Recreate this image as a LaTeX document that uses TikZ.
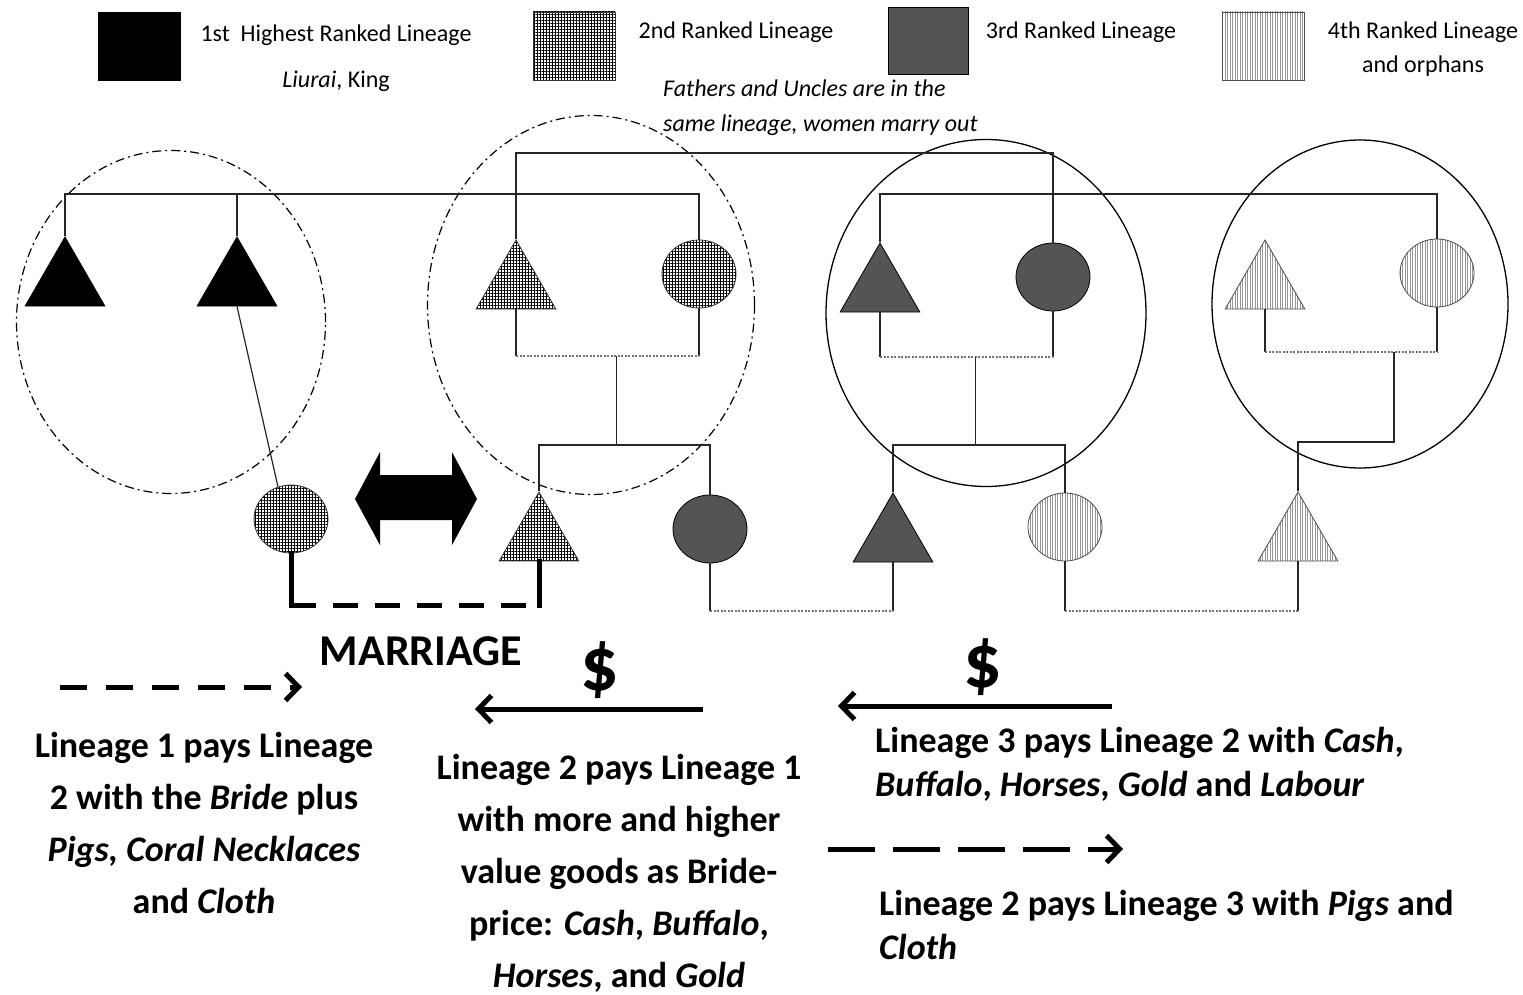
\documentclass[tikz,border=0pt]{standalone}
\usepackage{fontspec}
\setmainfont{Carlito}
\usetikzlibrary{shapes.geometric,patterns.meta,arrows.meta}

\tikzset{
  rank1/.style={fill=black,draw=black},
  rank2/.style={draw=black!80,pattern={Hatch[angle=0,distance=3pt,line width=0.9pt]},pattern color=black},
  rank3/.style={fill=black!67,draw=black},
  rank4/.style={draw=black!70,pattern={Lines[angle=90,distance=2.5pt,line width=0.9pt]},pattern color=black!42},
  keybox/.style={minimum width=82pt,minimum height=68pt,inner sep=0pt},
  male/.style={regular polygon,regular polygon sides=3,minimum size=92pt,inner sep=0pt,line width=0.8pt},
  female/.style={ellipse,minimum width=74pt,minimum height=68pt,inner sep=0pt,line width=0.8pt},
  ringdash/.style={ellipse,draw,inner sep=0pt,line width=1.2pt,dash pattern=on 9pt off 4pt on 2pt off 4pt},
  ringsolid/.style={ellipse,draw,inner sep=0pt,line width=1.3pt},
  kin/.style={line width=1.2pt,draw=black!85},
  wed/.style={line width=1.3pt,draw=black!55,dash pattern=on 2pt off 1.5pt},
  bond/.style={line width=5pt,draw=black},
  gift/.style={line width=5pt,-{Straight Barb[length=13pt,width=27pt,line width=5pt]}},
  keytxt/.style={inner sep=0pt,font=\fontsize{24}{34}\selectfont},
  paytxt/.style={inner sep=0pt,font=\bfseries\fontsize{36}{52}\selectfont},
  dollar/.style={inner sep=0pt,font=\bfseries\fontsize{76}{80}\selectfont}
}

\begin{document}
\begin{tikzpicture}[x=1pt,y=-1pt]
\useasboundingbox (0,0) rectangle (1523,995);

% legend
\node[rank1,keybox] (key1) at (139,46) {};
\node[keytxt] (key1t) at (336,35) {1st\ \ Highest Ranked Lineage};
\node[keytxt] (key1s) at (336,81) {\textit{Liurai}, King};
\node[rank2,keybox] (key2) at (574,46) {};
\node[keytxt] (key2t) at (736,32) {2nd Ranked Lineage};
\node[rank3,keybox,minimum width=80pt,minimum height=67pt] (key3) at (928,41) {};
\node[keytxt] (key3t) at (1081,32) {3rd Ranked Lineage};
\node[rank4,keybox] (key4) at (1263,46) {};
\node[keytxt,align=center] (key4t) at (1423,49) {4th Ranked Lineage\\and orphans};
\node[keytxt,align=left,anchor=west,font=\itshape\fontsize{24}{35}\selectfont] (note) at (663,108)
  {Fathers and Uncles are in the\\same lineage, women marry out};

% lineage rings
\node[ringdash,minimum width=309pt,minimum height=343pt] (ring1) at (171,322) {};
\node[ringdash,minimum width=327pt,minimum height=379pt] (ring2) at (591,305) {};
\node[ringsolid,minimum width=320pt,minimum height=347pt] (ring3) at (986,313) {};
\node[ringsolid,minimum width=296pt,minimum height=328pt] (ring4) at (1360,304) {};

% parents
\node[male,rank1] (t1) at (65,283) {};
\node[male,rank1] (t2) at (237,283) {};
\node[male,rank2] (t3) at (516,286) {};
\node[female,rank2] (c3) at (699,274) {};
\node[male,rank3] (t4) at (880,289) {};
\node[female,rank3] (c4) at (1053,277) {};
\node[male,rank4] (t5) at (1265,286) {};
\node[female,rank4] (c5) at (1437,273) {};

% children
\node[female,rank2] (bride) at (291,519) {};
\node[male,rank2] (groom) at (539,538) {};
\node[female,rank3] (c6) at (710,529) {};
\node[male,rank3] (t7) at (893,539) {};
\node[female,rank4] (c7) at (1065,527) {};
\node[male,rank4] (t8) at (1298,538) {};

\coordinate (barA) at (0,194);
\coordinate (barB) at (0,153);
\coordinate (barC) at (0,194);
\coordinate (cpl2) at (0,356);
\coordinate (cpl3) at (0,357);
\coordinate (cpl4) at (0,352);
\coordinate (sib2) at (0,445);
\coordinate (sib3) at (0,445);
\coordinate (sib4) at (0,442);
\coordinate (wedrow) at (0,605);
\coordinate (lowrow) at (0,611);

% sibling bars
\draw[kin] (t1.north) -- (t1.north |- barA) -| (c3.north);
\draw[kin] (t2.north) -- (t2.north |- barA);
\draw[kin] (t3.north) -- (t3.north |- barB) -| (c4.north);
\draw[kin] (t4.north) -- (t4.north |- barC) -| (c5.north);
\draw[kin] (t2.south) -- (bride.112);

% couples and their children
\draw[kin] (t3.south) -- (t3.south |- cpl2);
\draw[kin] (c3.south) -- (c3.south |- cpl2);
\draw[wed] (t3.south |- cpl2) -- coordinate[pos=0.55] (kid2) (c3.south |- cpl2);
\draw[kin] (kid2) -- (kid2 |- sib2);
\draw[kin] (groom.north) -- (groom.north |- sib2) -| (c6.north);

\draw[kin] (t4.south) -- (t4.south |- cpl3);
\draw[kin] (c4.south) -- (c4.south |- cpl3);
\draw[wed] (t4.south |- cpl3) -- coordinate[pos=0.55] (kid3) (c4.south |- cpl3);
\draw[kin] (kid3) -- (kid3 |- sib3);
\draw[kin] (t7.north) -- (t7.north |- sib3) -| (c7.north);

\draw[kin] (t5.south) -- (t5.south |- cpl4);
\draw[kin] (c5.south) -- (c5.south |- cpl4);
\draw[wed] (t5.south |- cpl4) -- coordinate[pos=0.75] (kid4) (c5.south |- cpl4);
\draw[kin] (kid4) -- (kid4 |- sib4) -| (t8.north);

% marriages below
\draw[bond,line cap=rect] (bride.south) -- (bride.south |- wedrow);
\draw[bond,line cap=rect] (groom.south) -- (groom.south |- wedrow);
\draw[bond,dash pattern=on 25pt off 17pt] (bride.south |- wedrow) -- (groom.south |- wedrow);
\draw[kin] (c6.south) -- (c6.south |- lowrow);
\draw[kin] (t7.south) -- (t7.south |- lowrow);
\draw[wed] (c6.south |- lowrow) -- (t7.south |- lowrow);
\draw[kin] (c7.south) -- (c7.south |- lowrow);
\draw[kin] (t8.south) -- (t8.south |- lowrow);
\draw[wed] (c7.south |- lowrow) -- (t8.south |- lowrow);

% exchange arrow
\fill[black] (355,499) -- (380,452) -- (380,475) -- (452,475) -- (452,452) -- (477,499)
  -- (452,545) -- (452,520) -- (380,520) -- (380,545) -- cycle;

% payments
\node[inner sep=0pt,font=\bfseries\fontsize{44}{50}\selectfont] (marriage) at (421,651) {MARRIAGE};
\node[dollar] (cash1) at (600,670) {\$};
\node[dollar] (cash2) at (983,667) {\$};
\coordinate (pay1a) at (60,687);
\coordinate (pay1b) at (302,687);
\coordinate (pay2a) at (703,709);
\coordinate (pay2b) at (475,709);
\coordinate (pay3a) at (1112,706);
\coordinate (pay3b) at (838,706);
\coordinate (pay4a) at (828,849);
\coordinate (pay4b) at (1123,849);
\draw[gift,dash pattern=on 27pt off 19pt] (pay1a) -- (pay1b);
\draw[gift] (pay2a) -- (pay2b);
\draw[gift] (pay3a) -- (pay3b);
\draw[gift,dash pattern=on 47pt off 18pt] (pay4a) -- (pay4b);

\node[paytxt,align=center] (pay1t) at (204,823)
  {Lineage 1 pays Lineage\\2 with the \textit{Bride} plus\\\textit{Pigs, Coral Necklaces}\\and \textit{Cloth}};
\node[paytxt,align=center] (pay2t) at (619,873)
  {Lineage 2 pays Lineage 1\\with more and higher\\value goods as Bride-\\price: \textit{Cash}, \textit{Buffalo},\\\textit{Horses}, and \textit{Gold}};
\node[paytxt,align=left,anchor=west,font=\bfseries\fontsize{36}{44}\selectfont] (pay3t) at (875,764)
  {Lineage 3 pays Lineage 2 with \textit{Cash},\\\textit{Buffalo}, \textit{Horses}, \textit{Gold} and \textit{Labour}};
\node[paytxt,align=left,anchor=west,font=\bfseries\fontsize{36}{44}\selectfont] (pay4t) at (879,925)
  {Lineage 2 pays Lineage 3 with \textit{Pigs} and\\\textit{Cloth}};
\end{tikzpicture}
\end{document}
